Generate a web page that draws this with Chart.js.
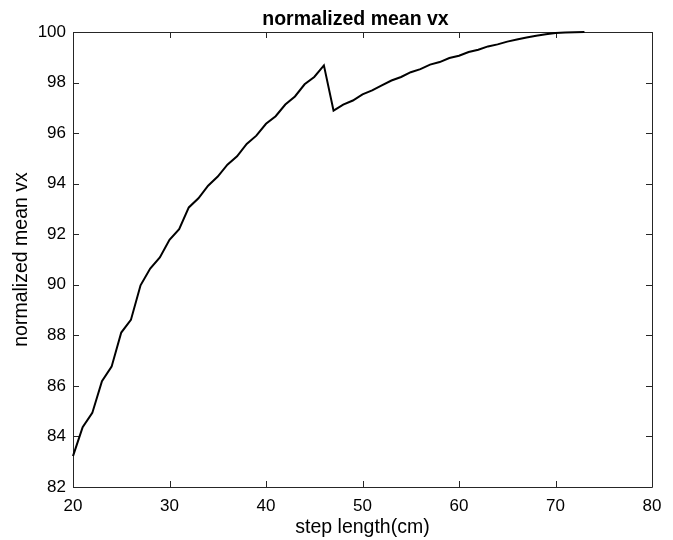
<!DOCTYPE html>
<html>
<head>
<meta charset="utf-8">
<script src="https://cdn.jsdelivr.net/npm/chart.js@4/dist/chart.umd.min.js"></script>
<style>
  html, body { margin: 0; padding: 0; background: #fff; }
  #wrap { width: 673px; height: 540px; position: relative; }
</style>
</head>
<body>
<div id="wrap"><canvas id="c"></canvas></div>
<script>
const stepLength = [20, 21, 22, 23, 24, 25, 26, 27, 28, 29,
                    30, 31, 32, 33, 34, 35, 36, 37, 38, 39,
                    40, 41, 42, 43, 44, 45, 46, 47, 48, 49,
                    50, 51, 52, 53, 54, 55, 56, 57, 58, 59,
                    60, 61, 62, 63, 64, 65, 66, 67, 68, 69,
                    70, 71, 72, 73];
const meanVx = [83.22, 84.37, 84.93, 86.19, 86.76, 88.11, 88.61, 89.98, 90.64, 91.08,
                91.78, 92.20, 93.06, 93.42, 93.92, 94.28, 94.75, 95.08, 95.57, 95.90,
                96.37, 96.67, 97.13, 97.45, 97.93, 98.22, 98.68, 96.89, 97.13, 97.29,
                97.53, 97.69, 97.89, 98.08, 98.22, 98.41, 98.53, 98.71, 98.81, 98.97,
                99.06, 99.21, 99.30, 99.43, 99.51, 99.62, 99.70, 99.78, 99.85, 99.91,
                99.96, 99.98, 99.99, 100.00];
const xTicks = [20, 30, 40, 50, 60, 70, 80];
const yTicks = [82, 84, 86, 88, 90, 92, 94, 96, 98, 100];

const FAMILY = '"Liberation Sans", Arial, Helvetica, sans-serif';
const AXIS = '#262626';
const TITLE = 'normalized mean vx';

// matlab style box with inward ticks + title over the axes
const boxPlugin = {
  id: 'box',
  beforeDatasetsDraw(chart) {
    const { ctx, chartArea: a, scales: { x, y } } = chart;
    const len = 6;
    ctx.save();
    ctx.strokeStyle = AXIS;
    ctx.lineWidth = 1;
    ctx.beginPath();
    ctx.rect(a.left + 0.5, a.top + 0.5, a.right - a.left, a.bottom - a.top);
    xTicks.forEach(v => {
      const px = Math.round(x.getPixelForValue(v)) + 0.5;
      ctx.moveTo(px, a.bottom); ctx.lineTo(px, a.bottom - len);
      ctx.moveTo(px, a.top); ctx.lineTo(px, a.top + len);
    });
    yTicks.forEach(v => {
      const py = Math.round(y.getPixelForValue(v)) + 0.5;
      ctx.moveTo(a.left, py); ctx.lineTo(a.left + len, py);
      ctx.moveTo(a.right, py); ctx.lineTo(a.right - len, py);
    });
    ctx.stroke();
    ctx.restore();
  },
  afterDraw(chart) {
    const { ctx, chartArea: a } = chart;
    ctx.save();
    ctx.fillStyle = '#000';
    ctx.font = 'bold 19.5px ' + FAMILY;
    ctx.textAlign = 'center';
    ctx.textBaseline = 'alphabetic';
    ctx.fillText(TITLE, (a.left + a.right) / 2 - 7, 25);
    ctx.restore();
  }
};

new Chart(document.getElementById('c'), {
  type: 'line',
  data: {
    datasets: [{
      data: stepLength.map((v, i) => ({ x: v, y: meanVx[i] })),
      borderColor: '#000',
      borderWidth: 2,
      pointRadius: 0,
      tension: 0,
      fill: false,
      clip: false
    }]
  },
  options: {
    responsive: true,
    maintainAspectRatio: false,
    animation: false,
    layout: { padding: { top: 32, right: 21, left: 0, bottom: 0 } },
    plugins: { legend: { display: false }, tooltip: { enabled: false }, title: { display: false } },
    scales: {
      x: {
        type: 'linear', min: 20, max: 80,
        afterFit: s => { s.height = 53; },
        afterBuildTicks: s => { s.ticks = xTicks.map(v => ({ value: v })); },
        grid: { display: false, drawTicks: false },
        border: { display: false },
        ticks: { color: '#000', padding: 9, maxRotation: 0, font: { family: FAMILY, size: 17 } },
        title: { display: true, text: 'step length(cm)', color: '#000', font: { family: FAMILY, size: 19.5 }, padding: { top: 0, bottom: 1 } }
      },
      y: {
        type: 'linear', min: 82, max: 100,
        afterFit: s => { s.width = 73; },
        afterBuildTicks: s => { s.ticks = yTicks.map(v => ({ value: v })); },
        grid: { display: false, drawTicks: false },
        border: { display: false },
        ticks: { color: '#000', padding: 7, font: { family: FAMILY, size: 17 } },
        title: { display: true, text: 'normalized mean vx', color: '#000', font: { family: FAMILY, size: 19.5 }, padding: { top: 10, bottom: 0 } }
      }
    }
  },
  plugins: [boxPlugin]
});
</script>
</body>
</html>
